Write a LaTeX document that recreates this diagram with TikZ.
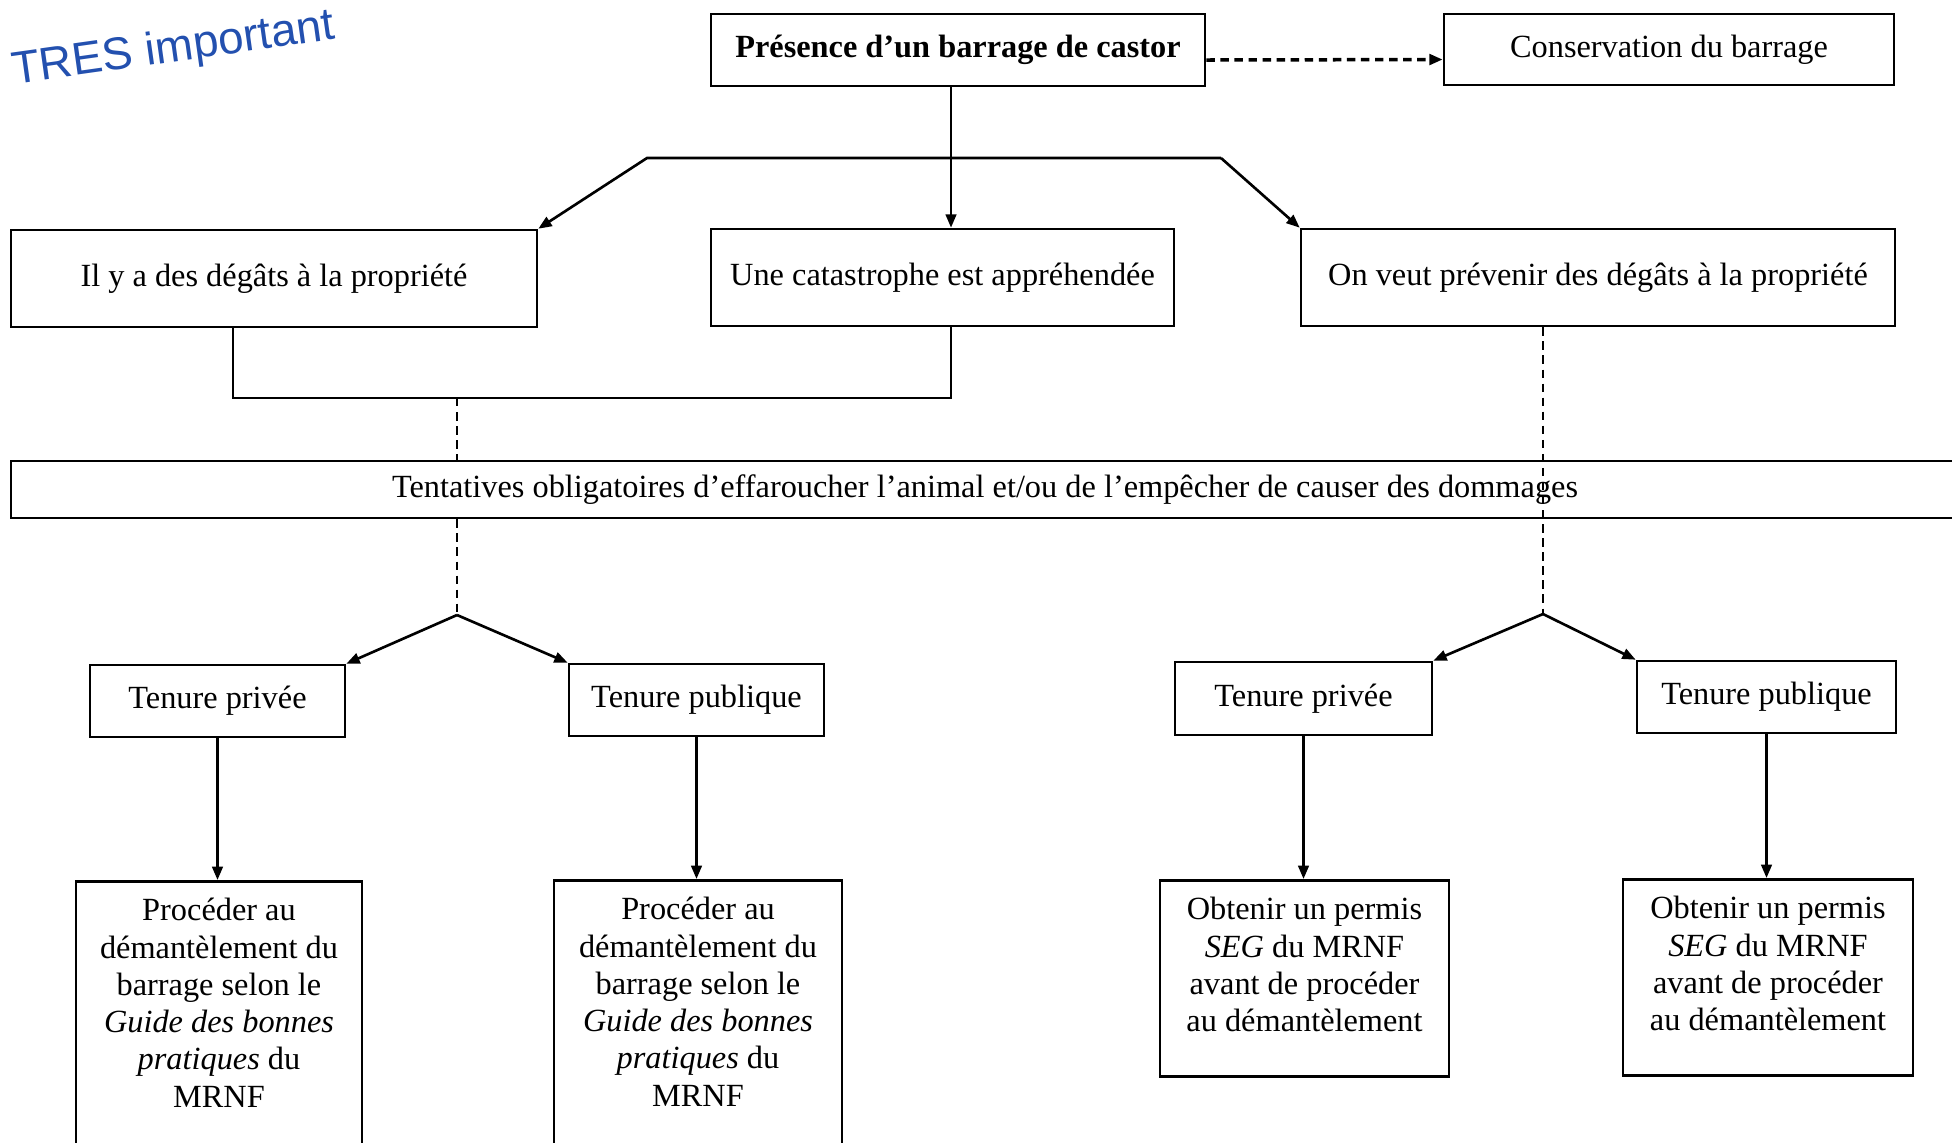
\documentclass[tikz,border=0pt]{standalone}
\usepackage{fontspec}
\setmainfont{Liberation Serif}
\newfontfamily\mainecrite{Liberation Sans}
\usetikzlibrary{arrows.meta}
\definecolor{encre}{RGB}{35,80,175}
\newcommand{\texte}{\fontsize{9.2}{10.6}\selectfont}
\newcommand{\gras}{\fontsize{9.2}{10.6}\selectfont\bfseries}
\begin{document}
\begin{tikzpicture}[
    trait/.style={line width=0.75pt},
    fleche/.style={trait, -{Triangle[length=3.8pt,width=3pt]}},
    pointille/.style={line width=0.7pt, dash pattern=on 2.4pt off 1.6pt},
    boite/.style={draw, rectangle, line width=0.75pt, inner sep=0pt, align=center, font=\texte},
    haute/.style={boite, anchor=north, inner ysep=0.17cm}
]
    \useasboundingbox (0,0) rectangle (19.52,-11.42);

    \node[rotate=8, anchor=base west, text=encre, font=\mainecrite\fontsize{13}{15}\selectfont] (note) at (0.02,-0.86) {TRES important};

    \node[boite, font=\gras, minimum width=4.94cm, minimum height=0.72cm] (presence) at (9.58,-0.50) {Présence d’un barrage de castor};
    \node[boite, minimum width=4.50cm, minimum height=0.71cm] (conserv) at (16.69,-0.495) {Conservation du barrage};

    \node[boite, minimum width=5.26cm, minimum height=0.97cm] (degats) at (2.74,-2.785) {Il y a des dégâts à la propriété};
    \node[boite, minimum width=4.63cm, minimum height=0.97cm] (catastrophe) at (9.425,-2.775) {Une catastrophe est appréhendée};
    \node[boite, minimum width=5.94cm, minimum height=0.97cm] (prevenir) at (15.98,-2.775) {On veut prévenir des dégâts à la propriété};

    \node[boite, minimum width=19.48cm, minimum height=0.57cm] (tentatives) at (9.85,-4.895) {Tentatives obligatoires d’effaroucher l’animal et/ou de l’empêcher de causer des dommages};

    \node[boite, minimum width=2.55cm, minimum height=0.72cm] (privee1) at (2.175,-7.01) {Tenure privée};
    \node[boite, minimum width=2.55cm, minimum height=0.72cm] (publique1) at (6.965,-7.00) {Tenure publique};
    \node[boite, minimum width=2.57cm, minimum height=0.73cm] (privee2) at (13.035,-6.985) {Tenure privée};
    \node[boite, minimum width=2.59cm, minimum height=0.72cm] (publique2) at (17.665,-6.97) {Tenure publique};

    \node[haute, minimum width=2.86cm, text depth=0.7cm] (proceder1) at (2.19,-8.80) {Procéder au\\démantèlement du\\barrage selon le\\\textit{Guide des bonnes}\\\textit{pratiques} du\\MRNF};
    \node[haute, minimum width=2.88cm, text depth=0.7cm] (proceder2) at (6.98,-8.79) {Procéder au\\démantèlement du\\barrage selon le\\\textit{Guide des bonnes}\\\textit{pratiques} du\\MRNF};
    \node[haute, minimum width=2.89cm, text depth=0.28cm] (obtenir1) at (13.045,-8.79) {Obtenir un permis\\\textit{SEG} du MRNF\\avant de procéder\\au démantèlement};
    \node[haute, minimum width=2.90cm, text depth=0.28cm] (obtenir2) at (17.68,-8.78) {Obtenir un permis\\\textit{SEG} du MRNF\\avant de procéder\\au démantèlement};

    \coordinate (axe) at (9.51,-1.58);
    \coordinate (coudeg) at (6.47,-1.58);
    \coordinate (couded) at (12.21,-1.58);
    \coordinate (lien) at (4.57,-3.98);
    \coordinate (fourche1) at (4.57,-6.15);
    \coordinate (fourche2) at (15.43,-6.14);

    \draw[pointille, line width=1pt, -{Triangle[length=3.8pt,width=3pt]}] ([yshift=-0.1cm]presence.east) -- ([yshift=-0.1cm]conserv.west);
    \draw[fleche] (presence.south -| axe) -- (catastrophe.north -| axe);
    \draw[fleche] (couded) -- (coudeg) -- (degats.north east);
    \draw[fleche] (couded) -- (prevenir.north west);

    \draw[trait] ([xshift=-0.41cm]degats.south) |- (lien) -| (catastrophe.south -| axe);
    \draw[pointille] (lien) -- (lien |- tentatives.north);
    \draw[pointille] (tentatives.south -| fourche1) -- (fourche1);
    \draw[pointille] (prevenir.south -| fourche2) -- (fourche2);

    \draw[fleche] (fourche1) -- (privee1.north east);
    \draw[fleche] (fourche1) -- (publique1.north west);
    \draw[fleche] (fourche2) -- (privee2.north east);
    \draw[fleche] (fourche2) -- (publique2.north west);

    \draw[fleche] (privee1.south) -- (privee1.south |- proceder1.north);
    \draw[fleche] (publique1.south) -- (publique1.south |- proceder2.north);
    \draw[fleche] (privee2.south) -- (privee2.south |- obtenir1.north);
    \draw[fleche] (publique2.south) -- (publique2.south |- obtenir2.north);
\end{tikzpicture}
\end{document}
